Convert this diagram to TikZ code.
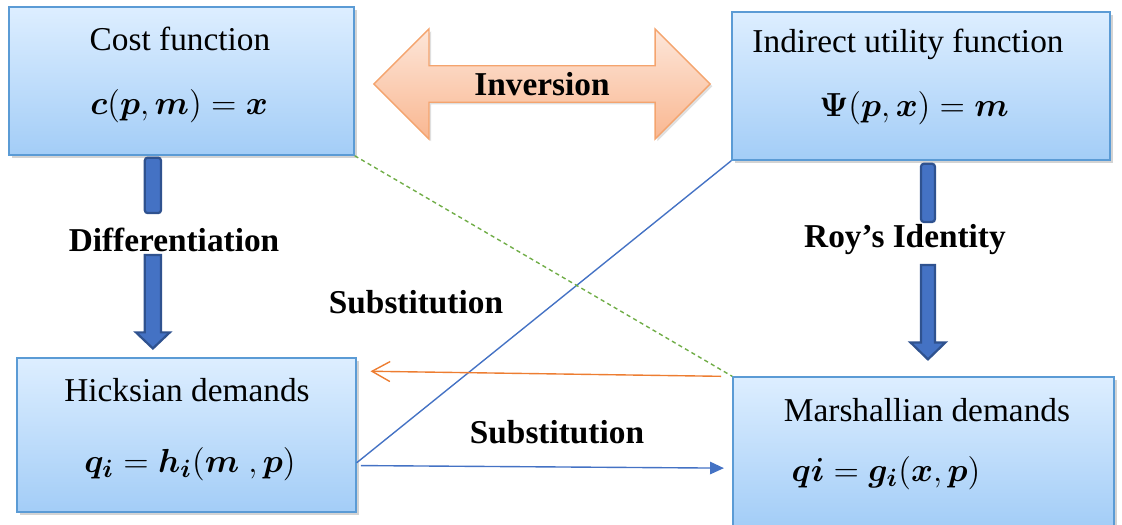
\documentclass[tikz,border=0pt]{standalone}
\usepackage{amsmath}
\usepackage{fontspec}
\setmainfont{Liberation Serif}
\usetikzlibrary{shapes.arrows,shadows,arrows.meta,calc}

\definecolor{boxtop}{HTML}{DDEEFF}
\definecolor{boxbot}{HTML}{A3CDF7}
\definecolor{boxline}{HTML}{5B9BD5}
\definecolor{invtop}{HTML}{FDE6D9}
\definecolor{invbot}{HTML}{F9B791}
\definecolor{invline}{HTML}{F4A46E}
\definecolor{arrowblue}{HTML}{4472C4}
\definecolor{arrowdark}{HTML}{2F528F}
\definecolor{lineorange}{HTML}{ED7D31}
\definecolor{linegreen}{HTML}{70AD47}

\tikzset{
    mainbox/.style={draw=boxline,line width=0.5pt,top color=boxtop,bottom color=boxbot,
        drop shadow={shadow xshift=1.2pt,shadow yshift=-1.2pt,opacity=0.35}},
    title/.style={font=\fontsize{12}{14}\selectfont},
    formula/.style={font=\fontsize{13}{15}\selectfont},
    steplabel/.style={font=\fontsize{12}{14}\selectfont\bfseries},
    fatarrow/.style={draw=arrowdark,fill=arrowblue,line width=0.8pt},
    thinblue/.style={draw=arrowblue,line width=0.5pt},
}

\begin{document}
\begin{tikzpicture}[x=0.36pt,y=-0.36pt]
    \useasboundingbox (0,0) rectangle (1122,524);
    %% boxes
    \node[mainbox,minimum width=124.2pt,minimum height=53.3pt] (cost) at (181.5,81) {};
    \node[mainbox,minimum width=136.1pt,minimum height=53.3pt] (ind) at (921,86) {};
    \node[mainbox,minimum width=122pt,minimum height=55.4pt] (hicks) at (186.5,435) {};
    \node[mainbox,minimum width=137.2pt,minimum height=54pt] (marsh) at (923.5,452) {};
    %% box texts
    \node[title] (costname) at (180,39) {Cost function};
    \node[formula] (costeq) at (179,106) {$\boldsymbol{c}(\boldsymbol{p},\boldsymbol{m})=\boldsymbol{x}$};
    \node[title] (indname) at (908,44) {Indirect utility function};
    \node[formula] (indeq) at (914,108) {$\boldsymbol{\Psi}(\boldsymbol{p},\boldsymbol{x})=\boldsymbol{m}$};
    \node[title] (hicksname) at (187,390) {Hicksian demands};
    \node[formula] (hickseq) at (190,464) {$\boldsymbol{q_i}=\boldsymbol{h_i}(\boldsymbol{m}\ ,\boldsymbol{p})$};
    \node[title] (marshname) at (927,410) {Marshallian demands};
    \node[formula] (marsheq) at (886,473) {$\boldsymbol{qi}=\boldsymbol{g_i}(\boldsymbol{x},\boldsymbol{p})$};
    %% inversion
    \node[double arrow,draw=invline,line width=0.5pt,top color=invtop,bottom color=invbot,
        minimum height=121pt,minimum width=39.6pt,double arrow head extend=9pt,inner sep=0pt,
        drop shadow={shadow xshift=0.8pt,shadow yshift=-0.8pt,opacity=0.25},
        font=\fontsize{12}{14}\selectfont\bfseries] (inv) at (542,84) {Inversion};
    %% labels
    \node[steplabel] (diff) at (174,240) {Differentiation};
    \node[steplabel] (roy) at (905,240) {Roy’s Identity};
    \node[steplabel] (subup) at (416,302) {Substitution};
    \node[steplabel] (subdown) at (557,432) {Substitution};
    %% fat arrows
    \draw[fatarrow,rounded corners=1pt] let \p1=([xshift=-10.3pt,yshift=-0.7pt]cost.south), \p2=([yshift=9.7pt]diff.center) in
        (\x1-2.9pt,\y1) rectangle (\x1+2.9pt,\y2);
    \draw[fatarrow] let \p1=([xshift=-10.3pt]cost.south), \p2=([yshift=-5.4pt]diff.center), \p3=(hicks.north) in
        (\x1-2.9pt,\y2) -- (\x1+2.9pt,\y2) -- (\x1+2.9pt,\y3+9pt) -- (\x1+6.1pt,\y3+9pt) -- (\x1,\y3+3.2pt)
        -- (\x1-6.1pt,\y3+9pt) -- (\x1-2.9pt,\y3+9pt) -- cycle;
    \draw[fatarrow,rounded corners=1pt] let \p1=([xshift=2.5pt,yshift=-1.1pt]ind.south), \p2=([yshift=6.5pt]roy.center) in
        (\x1-2.5pt,\y1) rectangle (\x1+2.5pt,\y2);
    \draw[fatarrow] let \p1=([xshift=2.5pt]ind.south), \p2=([yshift=-9pt]roy.center), \p3=(marsh.north) in
        (\x1-2.5pt,\y2) -- (\x1+2.5pt,\y2) -- (\x1+2.5pt,\y3+12.2pt) -- (\x1+6.3pt,\y3+12.2pt) -- (\x1,\y3+6.1pt)
        -- (\x1-6.3pt,\y3+12.2pt) -- (\x1-2.5pt,\y3+12.2pt) -- cycle;
    %% thin connectors
    \draw[thinblue] ([yshift=-10pt]hicks.east) -- (ind.south west);
    \draw[thinblue,-{Triangle[length=5pt,width=4.5pt]}] ([shift={(1.5pt,-11pt)}]hicks.east) -- ([shift={(-3pt,-5.8pt)}]marsh.west);
    \draw[lineorange,line width=0.5pt,-{Straight Barb[length=6.5pt,width=7.2pt]}] ([xshift=-4pt]marsh.north west) -- ([shift={(5pt,-5pt)}]hicks.north east);
    \draw[linegreen,line width=0.5pt,dash pattern=on 1.5pt off 1.2pt] (cost.south east) -- (marsh.north west);
\end{tikzpicture}
\end{document}
